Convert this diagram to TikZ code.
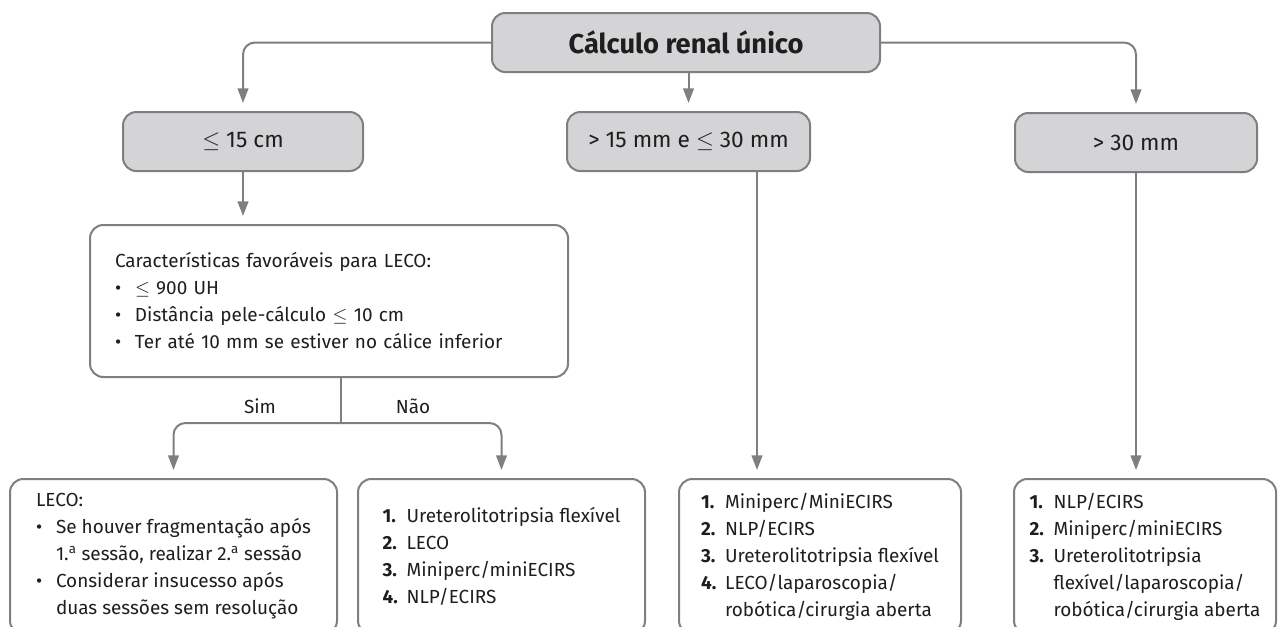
\documentclass[tikz,border=0pt]{standalone}
\usepackage{fontspec}
\setmainfont{Fira Sans}
\usetikzlibrary{arrows.meta}

\definecolor{boxgrey}{HTML}{D4D4D6}
\definecolor{linegrey}{HTML}{7F7F7F}
\definecolor{inkgrey}{HTML}{1E1E1E}

\newcommand{\bulletmark}{\makebox[15pt][l]{\textbullet}}
\newcommand{\bulletgap}{\hspace*{15pt}}
\newcommand{\itemno}[1]{\makebox[18pt][l]{\textbf{#1.}}}
\newcommand{\ordsup}{\textsuperscript{a}}

\tikzset{
	grey box/.style={draw=linegrey,fill=boxgrey,line width=1.5pt,rounded corners=10pt,text=inkgrey,inner sep=0,minimum height=44.25pt,font=\fontsize{17}{20}\selectfont},
	white box/.style={draw=linegrey,fill=white,line width=1.5pt,rounded corners=10pt,text=inkgrey,align=left},
	flow/.style={draw=linegrey,line width=1.5pt,rounded corners=9pt,shorten >=6pt,-{Triangle[length=11pt,width=8pt]}},
	link/.style={draw=linegrey,line width=1.5pt},
	answer/.style={text=inkgrey,inner sep=0}
}

\begin{document}
\begin{tikzpicture}[x=0.75pt,y=-0.75pt,font=\fontsize{14.2}{20.25}\selectfont]
	\useasboundingbox (0,0) rectangle (1284,626);
	\node[grey box,minimum width=291pt,font=\fontsize{20.5}{24}\selectfont\bfseries] (calc) at (686,42.5) {Cálculo renal único};
	\node[grey box,minimum width=180pt] (le15) at (243,141.5) {$\le$ 15 cm};
	\node[grey box,minimum width=182.25pt] (mid) at (688.5,141.5) {> 15 mm e $\le$ 30 mm};
	\node[grey box,minimum width=181.5pt] (gt30) at (1136,142.5) {> 30 mm};
	\node[white box,text width=321pt,inner xsep=18.75pt,minimum height=114pt] (crit) at (329,301) {Características favoráveis para LECO:\\
		\bulletmark$\le$ 900 UH\\
		\bulletmark Distância pele-cálculo $\le$ 10 cm\\
		\bulletmark Ter até 10 mm se estiver no cálice inferior};
	\node[white box,minimum width=245.25pt,minimum height=116.25pt] (leco) at (173.5,556.5) {LECO:\\
		\bulletmark Se houver fragmentação após\\
		\bulletgap 1.\ordsup\ sessão, realizar 2.\ordsup\ sessão\\
		\bulletmark Considerar insucesso após\\
		\bulletgap duas sessões sem resolução};
	\node[white box,minimum width=215.25pt,minimum height=116.25pt] (nao) at (501.5,556.5) {\itemno{1}Ureterolitotripsia flexível\\
		\itemno{2}LECO\\
		\itemno{3}Miniperc/miniECIRS\\
		\itemno{4}NLP/ECIRS};
	\node[white box,minimum width=211.5pt,minimum height=116.25pt] (miniperc) at (820,556.5) {\itemno{1}Miniperc/MiniECIRS\\
		\itemno{2}NLP/ECIRS\\
		\itemno{3}Ureterolitotripsia flexível\\
		\itemno{4}LECO/laparoscopia/\\
		\hspace*{18pt}robótica/cirurgia aberta};
	\node[white box,minimum width=196.5pt,minimum height=116.25pt] (nlp) at (1145,556.5) {\itemno{1}NLP/ECIRS\\
		\itemno{2}Miniperc/miniECIRS\\
		\itemno{3}Ureterolitotripsia\\
		\hspace*{18pt}flexível/laparoscopia/\\
		\hspace*{18pt}robótica/cirurgia aberta};
	\node[answer] (sim) at (260,406) {Sim};
	\node[answer] (naolabel) at (413,406) {Não};
	\coordinate (split) at (341,423);
	\coordinate (midout) at (757,171);
	\draw[flow] (calc.west) -| (le15.north);
	\draw[flow] (calc.south -| mid.north) -- (mid.north);
	\draw[flow] (calc.east) -| (gt30.north);
	\draw[flow] (le15.south) -- (le15.south |- crit.north);
	\draw[link] (crit.south -| split) -- (split);
	\draw[flow] (split) -| (leco.north);
	\draw[flow] (split) -| (nao.north);
	\draw[flow] (midout) -- (midout |- miniperc.north);
	\draw[flow] (gt30.south) -- (gt30.south |- nlp.north);
\end{tikzpicture}
\end{document}
